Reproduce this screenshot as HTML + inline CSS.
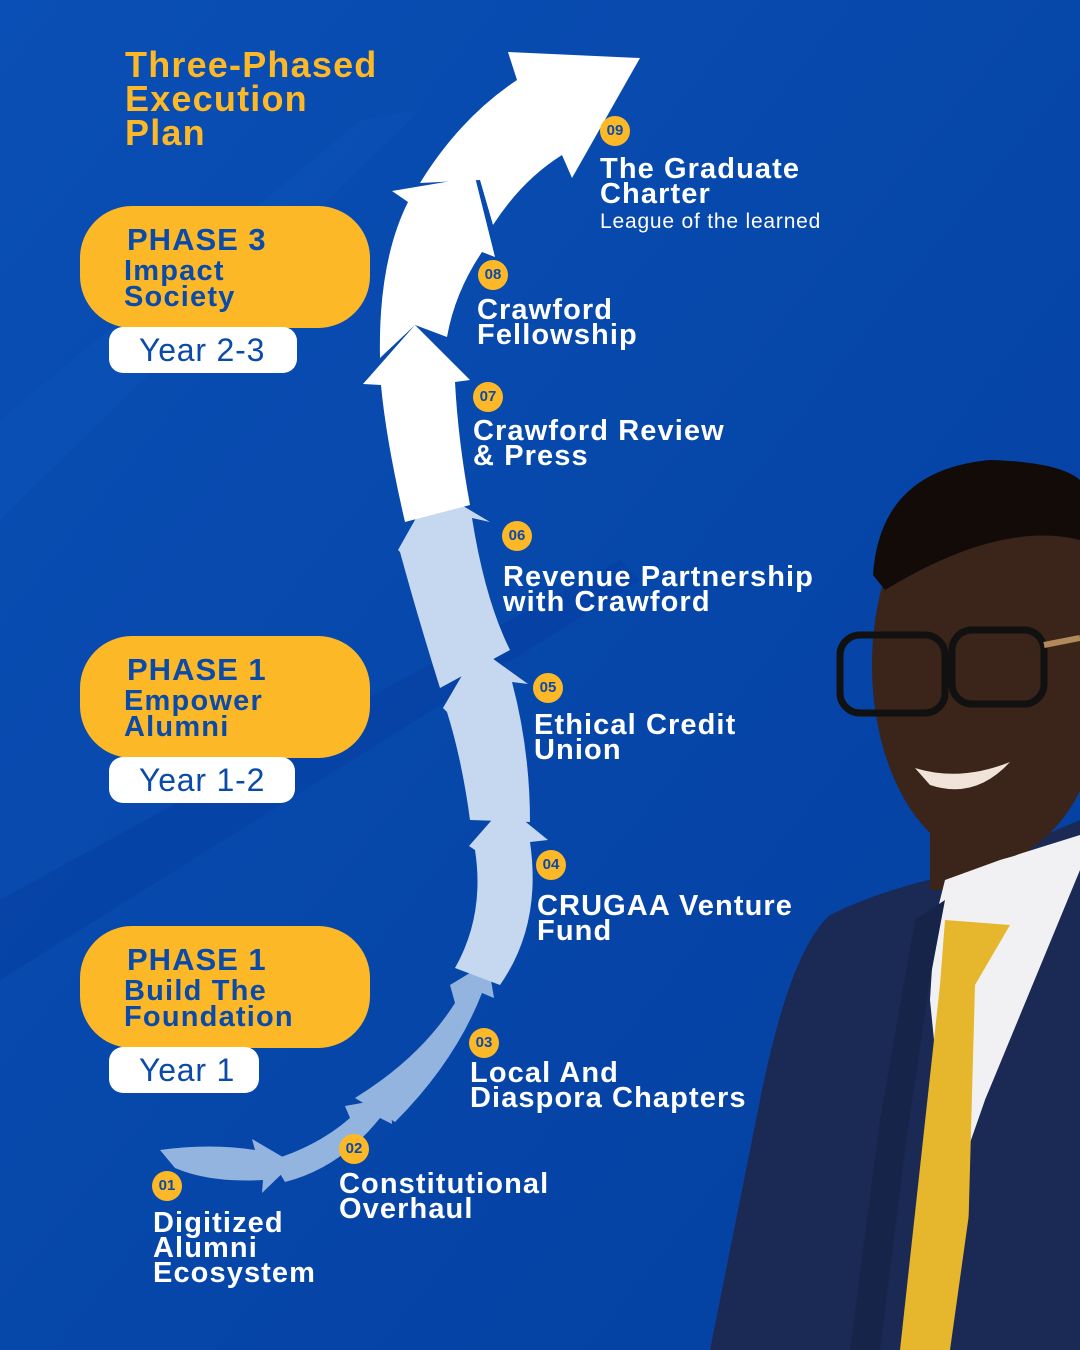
<!DOCTYPE html>
<html><head><meta charset="utf-8"><style>
html,body{margin:0;padding:0}
body{width:1080px;height:1350px;overflow:hidden;background:#0447ad;position:relative;font-family:"Liberation Sans",sans-serif}
svg{position:absolute;left:0;top:0}
.t{position:absolute;color:#fff;font-weight:bold;font-size:29px;line-height:25px;letter-spacing:1.1px}
.n{position:absolute;width:30px;height:30px;border-radius:50%;background:#fdb827;color:#0a4aa8;font-weight:bold;font-size:15px;line-height:30px;text-align:center}
.ph{position:absolute;left:80px;width:290px;height:122px;background:#fdb827;border-radius:52px}
.ph b{position:absolute;left:47px;top:16px;color:#0a4aa8;font-size:31px;letter-spacing:1px}
.ph span{position:absolute;left:44px;top:52px;color:#0a4aa8;font-size:29px;line-height:26px;font-weight:bold;letter-spacing:1.2px}
.yr{position:absolute;left:109px;height:46px;background:#fff;border-radius:14px;color:#0a4aa8;font-size:32px;line-height:46px;padding-left:30px;box-sizing:border-box;letter-spacing:0.8px}
</style></head><body>
<svg width="1080" height="1350" viewBox="0 0 1080 1350">
<defs><linearGradient id="bg" x1="0" y1="0" x2="1" y2="1"><stop offset="0" stop-color="#0a4fb5"/><stop offset="1" stop-color="#033f9f"/></linearGradient></defs>
<rect width="1080" height="1350" fill="url(#bg)"/>
<polygon points="0,420 360,120 420,110 0,520" fill="#0b52b8" opacity="0.5"/>
<polygon points="0,900 620,560 640,580 0,980" fill="#053ea0" opacity="0.5"/>
<!-- arrows -->
<path d="M160,1150 Q210,1143 255,1150 L252,1139 L293,1163 L262,1193 L263,1180 Q210,1183 175,1168 Z" fill="#94b4e0"/>
<path d="M272,1160 Q318,1146 350,1118 L345,1106 L390,1098 L392,1124 L380,1118 Q340,1168 285,1182 Z" fill="#94b4e0"/>
<path d="M355,1098 Q420,1058 455,1003 L450,985 L488,962 L494,998 L482,993 Q455,1062 395,1122 Z" fill="#94b4e0"/>
<path d="M455,968 Q485,915 475,850 L469,846 L505,805 L548,840 L530,842 Q542,925 500,985 Z" fill="#c6d8ef"/>
<path d="M470,820 Q462,760 447,712 L443,708 L478,648 L528,684 L512,682 Q530,750 530,822 Z" fill="#c6d8ef"/>
<path d="M440,688 Q418,618 400,552 L398,550 L433,488 L490,522 L472,518 Q485,600 510,650 Z" fill="#c6d8ef"/>
<path d="M405,522 Q386,440 381,385 L363,384 L415,325 L470,380 L455,382 Q458,440 470,505 Z" fill="#fff"/>
<path d="M380,358 Q378,262 408,202 L392,191 L475,177 L495,257 L482,252 Q455,292 447,337 L415,325 Z" fill="#fff"/>
<path d="M420,183 Q460,118 517,80 L508,52 L640,58 L572,178 L562,155 Q522,180 493,225 L480,180 Z" fill="#fff"/>
<!-- portrait -->
<path d="M710,1350 L760,1100 Q790,950 830,915 Q880,890 950,875 L1080,820 L1080,1350 Z" fill="#1b2a55"/>
<rect x="930" y="800" width="100" height="90" fill="#3b2419"/>
<path d="M945,880 L1000,860 L1080,835 L1080,870 L985,1100 L950,1200 L930,1000 L935,920 Z" fill="#f1f1f3"/>
<path d="M945,920 L1010,925 L975,985 L965,1350 L900,1350 L940,985 Z" fill="#e6b62c"/>
<path d="M1080,880 L985,1100 L950,1350 L1080,1350 Z" fill="#1b2a55"/>
<path d="M945,900 L930,980 L905,1150 L880,1350 L850,1350 L880,1120 L915,920 Z" fill="#172449"/>
<ellipse cx="990" cy="665" rx="118" ry="195" fill="#3b2419"/>
<path d="M873,575 Q880,470 990,460 Q1060,462 1080,480 L1080,540 Q1000,520 885,590 Z" fill="#120b08"/>
<rect x="840" y="635" width="105" height="78" rx="20" fill="none" stroke="#111" stroke-width="7"/>
<rect x="952" y="630" width="92" height="74" rx="20" fill="none" stroke="#111" stroke-width="7"/>
<line x1="1044" y1="645" x2="1080" y2="638" stroke="#b08a5a" stroke-width="6"/>
<path d="M915,768 Q960,782 1010,762 Q975,800 930,785 Z" fill="#f0e4da"/>
</svg>
<div style="position:absolute;left:125px;top:48px;color:#fdb827;font-weight:bold;font-size:36px;line-height:34px;letter-spacing:1.2px">Three-Phased<br>Execution<br>Plan</div>

<div class="ph" style="top:206px"><b>PHASE 3</b><span>Impact<br>Society</span></div>
<div class="yr" style="top:327px;width:188px">Year 2-3</div>
<div class="ph" style="top:636px"><b>PHASE 1</b><span>Empower<br>Alumni</span></div>
<div class="yr" style="top:757px;width:186px">Year 1-2</div>
<div class="ph" style="top:926px"><b>PHASE 1</b><span>Build The<br>Foundation</span></div>
<div class="yr" style="top:1047px;width:150px">Year 1</div>

<div class="n" style="left:600px;top:116px">09</div>
<div class="t" style="left:600px;top:157px">The Graduate<br>Charter</div>
<div style="position:absolute;left:600px;top:210px;color:#fff;font-size:21px;letter-spacing:0.8px">League of the learned</div>
<div class="n" style="left:478px;top:260px">08</div>
<div class="t" style="left:477px;top:298px">Crawford<br>Fellowship</div>
<div class="n" style="left:473px;top:382px">07</div>
<div class="t" style="left:473px;top:419px">Crawford Review<br>&amp; Press</div>
<div class="n" style="left:502px;top:521px">06</div>
<div class="t" style="left:503px;top:565px">Revenue Partnership<br>with Crawford</div>
<div class="n" style="left:533px;top:673px">05</div>
<div class="t" style="left:534px;top:713px">Ethical Credit<br>Union</div>
<div class="n" style="left:536px;top:850px">04</div>
<div class="t" style="left:537px;top:894px">CRUGAA Venture<br>Fund</div>
<div class="n" style="left:469px;top:1028px">03</div>
<div class="t" style="left:470px;top:1061px">Local And<br>Diaspora Chapters</div>
<div class="n" style="left:339px;top:1134px">02</div>
<div class="t" style="left:339px;top:1172px">Constitutional<br>Overhaul</div>
<div class="n" style="left:152px;top:1171px">01</div>
<div class="t" style="left:153px;top:1211px">Digitized<br>Alumni<br>Ecosystem</div>
</body></html>
